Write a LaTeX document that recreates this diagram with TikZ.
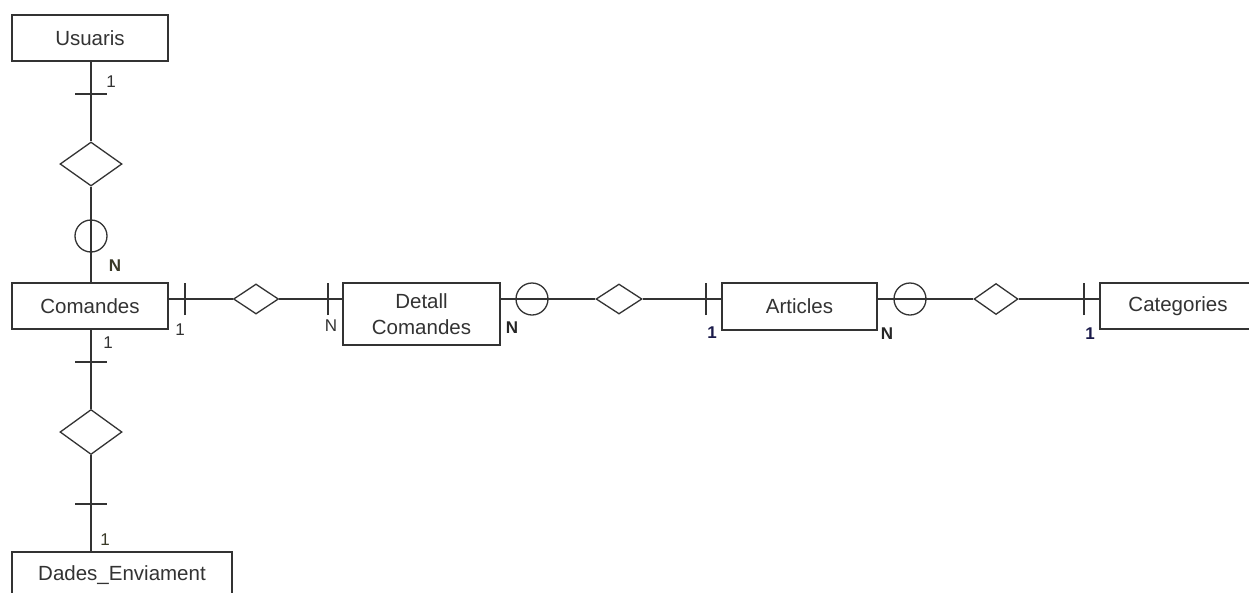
\documentclass[tikz,border=0pt]{standalone}
\usepackage{fontspec}
\setmainfont{Liberation Sans}
\usetikzlibrary{shapes.geometric}
\definecolor{ink}{HTML}{333333}
\definecolor{navy}{HTML}{1A1A4A}
\definecolor{olive}{HTML}{3A3A28}
\tikzset{
  entity/.style={draw=ink, rectangle, line width=1.3pt, inner sep=0pt, text=ink, font=\fontsize{20.5}{26}\selectfont, minimum height=46pt},
  rel/.style={draw=ink, diamond, line width=1.3pt, inner sep=0pt},
  opt/.style={draw=ink, circle, line width=1.3pt, inner sep=0pt, minimum size=32pt},
  conn/.style={draw=ink, line width=1.3pt},
  card/.style={text=ink, font=\fontsize{17}{20}\selectfont, inner sep=0pt},
  cardb/.style={text=olive, font=\fontsize{17}{20}\selectfont\bfseries, inner sep=0pt},
  cardn/.style={text=navy, font=\fontsize{17}{20}\selectfont\bfseries, inner sep=0pt}
}
\begin{document}
\begin{tikzpicture}[x=1pt,y=-1pt]
\clip (0,0) rectangle (1249,592);
\fill[white] (0,0) rectangle (1249,592);
% entities
\node[entity, minimum width=156pt] (usu) at (90,38) {Usuaris};
\node[entity, minimum width=156pt] (com) at (90,306) {Comandes};
\node[entity, minimum width=220pt] (dad) at (122,575) {Dades\_Enviament};
\node[entity, minimum width=157pt, minimum height=62pt, align=center] (det) at (421.5,314) {Detall\\Comandes};
\node[entity, minimum width=155pt, minimum height=47pt] (art) at (799.5,306.5) {Articles};
\node[entity, minimum width=156pt] (cat) at (1178,306) {Categories};
% relationships
\node[rel, minimum width=62pt, minimum height=44pt] (r1) at (91,164) {};
\node[rel, minimum width=45pt, minimum height=30pt] (r2) at (256,299) {};
\node[rel, minimum width=46pt, minimum height=30pt] (r3) at (619,299) {};
\node[rel, minimum width=44pt, minimum height=31pt] (r4) at (996,299) {};
\node[rel, minimum width=62pt, minimum height=45pt] (r5) at (91,432) {};
% connectors
\draw[conn] (r1 |- usu.south) -- (r1.north);
\draw[conn] (r1.south) -- (r1 |- com.north);
\draw[conn] (r5 |- com.south) -- (r5.north);
\draw[conn] (r5.south) -- (r5 |- dad.north);
\draw[conn] (com.east |- r2) -- (r2.west);
\draw[conn] (r2.east) -- (det.west |- r2);
\draw[conn] (det.east |- r3) -- (r3.west);
\draw[conn] (r3.east) -- (art.west |- r3);
\draw[conn] (art.east |- r4) -- (r4.west);
\draw[conn] (r4.east) -- (cat.west |- r4);
% optional circles
\node[opt] (o1) at (91,236) {};
\node[opt] (o2) at (532,299) {};
\node[opt] (o3) at (910,299) {};
% ticks
\coordinate (t1) at (91,94);
\coordinate (t2) at (185,299);
\coordinate (t3) at (328,299);
\coordinate (t4) at (706,299);
\coordinate (t5) at (1084,299);
\coordinate (t6) at (91,362);
\coordinate (t7) at (91,504);
\foreach \t in {t1,t6,t7} \draw[conn] ([xshift=-16pt]\t) -- ([xshift=16pt]\t);
\foreach \t in {t2,t3,t4,t5} \draw[conn] ([yshift=-16pt]\t) -- ([yshift=16pt]\t);
% cardinalities
\node[card] (c1) at (111,82) {1};
\node[cardb] (c2) at (115,266) {N};
\node[card] (c3) at (180,330) {1};
\node[card] (c4) at (108,343) {1};
\node[card] (c5) at (331,326) {N};
\node[cardn, text=black!85] (c6) at (512,328) {N};
\node[cardn] (c7) at (712,333) {1};
\node[cardn, text=black!85] (c8) at (887,334) {N};
\node[cardn] (c9) at (1090,334) {1};
\node[card, text=olive] (c10) at (105,540) {1};
\end{tikzpicture}
\end{document}
